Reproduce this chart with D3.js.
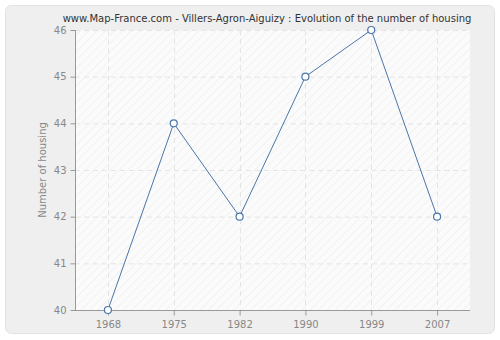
<!DOCTYPE html>
<html><head><meta charset="utf-8">
<script src="https://cdn.jsdelivr.net/npm/d3@7"></script>
<style>body{margin:0;background:#fff;}svg{display:block;font-family:"DejaVu Sans",Verdana,sans-serif;}</style>
</head><body><svg id="c" width="500" height="340"></svg>
<script>
const years = ["1968","1975","1982","1990","1999","2007"];
const housing = [40,44,42,45,46,42];
const yTicks = [40,41,42,43,44,45,46];
const title = "www.Map-France.com - Villers-Agron-Aiguizy : Evolution of the number of housing";
const yLabel = "Number of housing";

const svg = d3.select("#c");
const m = {l:75, r:470, t:30, b:310};
const defs = svg.append("defs");
const pat = defs.append("pattern").attr("id","hatch").attr("patternUnits","userSpaceOnUse")
  .attr("width",6).attr("height",6).attr("patternTransform","rotate(45)");
pat.append("rect").attr("width",6).attr("height",6).attr("fill","#fbfbfb");
pat.append("line").attr("x1",0).attr("y1",0).attr("x2",0).attr("y2",6).attr("stroke","#f0f0f0").attr("stroke-width",1.5);

svg.append("rect").attr("x",5.5).attr("y",5.5).attr("width",489).attr("height",328).attr("rx",6)
  .attr("fill","#efefef").attr("stroke","#e2e2e2");
svg.append("rect").attr("x",m.l).attr("y",m.t).attr("width",m.r-m.l).attr("height",m.b-m.t).attr("fill","url(#hatch)");

const x = d3.scalePoint().domain(years).range([m.l,m.r]).padding(0.5);
const y = d3.scaleLinear().domain([40,46]).range([m.b,m.t]);

const grid = svg.append("g").attr("stroke","#e4e4e4").attr("stroke-dasharray","5,4");
grid.selectAll(".h").data(yTicks.slice(1)).join("line").attr("x1",m.l).attr("x2",m.r)
  .attr("y1",d=>y(d)+0.5).attr("y2",d=>y(d)+0.5);
grid.selectAll(".v").data(years).join("line").attr("y1",m.t).attr("y2",m.b)
  .attr("x1",d=>Math.round(x(d))+0.5).attr("x2",d=>Math.round(x(d))+0.5);

const yAxis = svg.append("g").attr("transform",`translate(${m.l+0.5},0)`)
  .call(d3.axisLeft(y).tickValues(yTicks).tickSize(5).tickPadding(4).tickFormat(d3.format("d")));
const xAxis = svg.append("g").attr("transform",`translate(0,${m.b+0.5})`)
  .call(d3.axisBottom(x).tickSize(5).tickPadding(5));
[yAxis,xAxis].forEach(a=>{
  a.select(".domain").attr("stroke","#999");
  a.selectAll(".tick line").attr("stroke","#999");
  a.selectAll("text").attr("fill","#888").style("font-size","10px").style("font-family","DejaVu Sans");
});
xAxis.select(".domain").attr("d",`M${m.l},0H${m.r}`);
yAxis.select(".domain").attr("d",`M0,${m.b}V${m.t}`);

const line = d3.line().x((d,i)=>x(years[i])).y(d=>y(d));
svg.append("path").datum(housing).attr("d",line).attr("fill","none").attr("stroke","#4a76a8").attr("stroke-width",1);
svg.selectAll(".pt").data(housing).join("circle").attr("cx",(d,i)=>x(years[i])).attr("cy",d=>y(d))
  .attr("r",3.5).attr("fill","#fff").attr("stroke","#4a76a8").attr("stroke-width",1.2);

svg.append("text").attr("x",267).attr("y",22).attr("text-anchor","middle").attr("fill","#333")
  .style("font-size","10px").text(title);
svg.append("text").attr("transform",`translate(46,${(m.t+m.b)/2}) rotate(-90)`).attr("text-anchor","middle")
  .attr("fill","#888").style("font-size","10px").text(yLabel);
</script></body></html>
